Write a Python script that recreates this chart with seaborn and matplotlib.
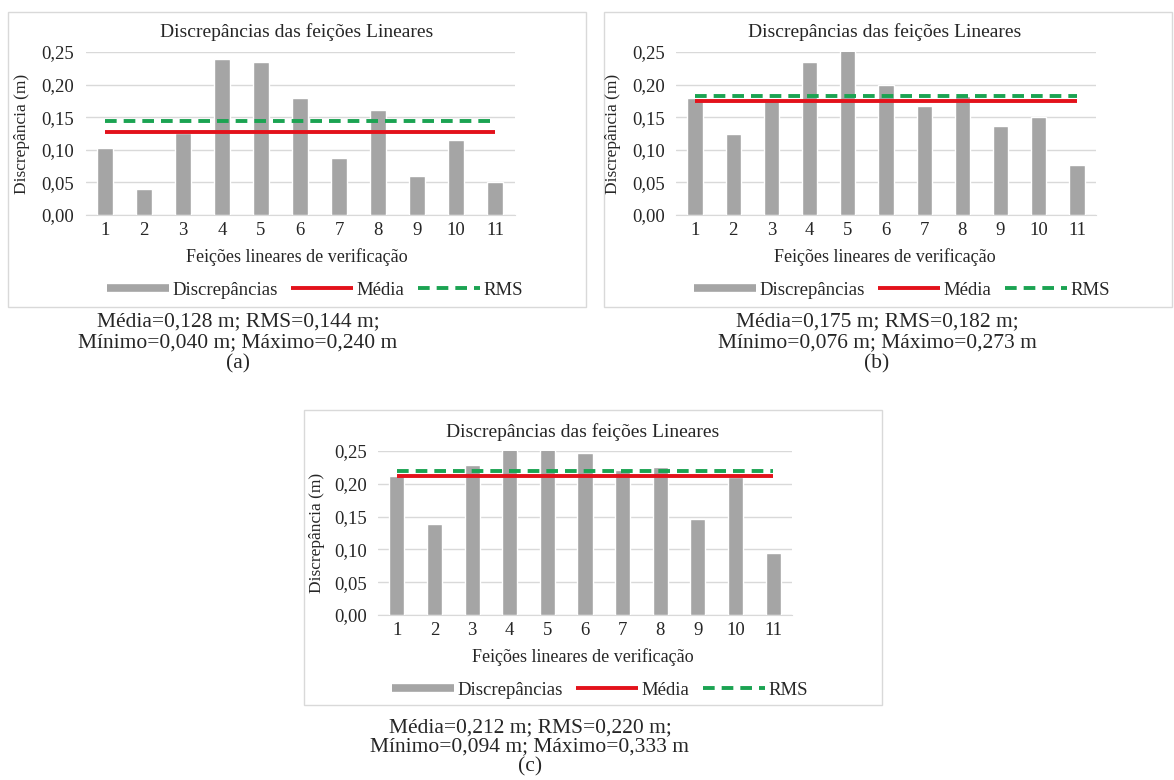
import numpy as np
import matplotlib
matplotlib.use("Agg")
import matplotlib.pyplot as plt
from matplotlib.lines import Line2D
from matplotlib.patches import Rectangle
import seaborn as sns

sns.set_style("white")
plt.rcParams['font.family'] = ['Liberation Serif', 'DejaVu Serif']

# ---- data ----
categories = ["1", "2", "3", "4", "5", "6", "7", "8", "9", "10", "11"]
disc_a = [0.103, 0.040, 0.126, 0.240, 0.235, 0.179, 0.087, 0.161, 0.060, 0.115, 0.050]
disc_b = [0.180, 0.125, 0.180, 0.235, 0.273, 0.200, 0.167, 0.183, 0.137, 0.151, 0.076]
disc_c = [0.212, 0.139, 0.228, 0.275, 0.333, 0.247, 0.221, 0.226, 0.146, 0.211, 0.094]
media = [0.128, 0.175, 0.212]
rms = [0.144, 0.182, 0.220]
minimo = [0.040, 0.076, 0.094]
maximo = [0.240, 0.273, 0.333]
panel_letters = ["(a)", "(b)", "(c)"]
yticks = [0.00, 0.05, 0.10, 0.15, 0.20, 0.25]
ytick_labels = ["0,00", "0,05", "0,10", "0,15", "0,20", "0,25"]
title = "Discrepâncias das feições Lineares"
xlabel = "Feições lineares de verificação"
ylabel = "Discrepância (m)"
legend_labels = ["Discrepâncias", "Média", "RMS"]

W, H = 1174, 780
fig = plt.figure(figsize=(W / 100, H / 100), dpi=100)


def fx(x):
    return x / W


def fy(y):
    return 1 - y / H


BAR = "#A5A5A5"
RED = "#E3121B"
GREEN = "#1BA352"
GRID = "#D9D9D9"

# layout in pixels (per panel)
panels = [
    dict(data=disc_a, box=(8, 12, 586, 307), ax=(85.5, 52, 514.5, 215), cx=297,
         ylab_x=22, title_y=32, xlab_y=257, leg_x=315, leg_y=290, cap_x=238,
         cap_y=(322, 343, 364)),
    dict(data=disc_b, box=(604, 12, 1172, 307), ax=(676, 52, 1096, 215), cx=885,
         ylab_x=613, title_y=32, xlab_y=257, leg_x=902, leg_y=290, cap_x=877,
         cap_y=(322, 343, 364)),
    dict(data=disc_c, box=(304, 410, 882, 705), ax=(378, 451, 792, 615), cx=583,
         ylab_x=317, title_y=432, xlab_y=657, leg_x=600, leg_y=690, cap_x=530,
         cap_y=(728, 747, 767)),
]

for i, p in enumerate(panels):
    bx0, by0, bx1, by1 = p["box"]
    fig.patches.append(Rectangle((fx(bx0), fy(by1)), fx(bx1 - bx0), (by1 - by0) / H,
                                 transform=fig.transFigure, fill=False,
                                 edgecolor=GRID, lw=1.0, zorder=0))
    ax0, ay0, ax1, ay1 = p["ax"]
    ax = fig.add_axes([fx(ax0), fy(ay1), fx(ax1 - ax0), (ay1 - ay0) / H])
    ax.set_facecolor("none")
    n = len(categories)
    sns.barplot(x=categories, y=p["data"], color=BAR, saturation=1, width=0.4,
                ax=ax, zorder=2)
    xs = np.arange(n)
    ax.plot(xs, [media[i]] * n, color=RED, lw=2.8, zorder=3, solid_capstyle="butt")
    ax.plot(xs, [rms[i]] * n, color=GREEN, lw=2.8, zorder=4, dashes=(3.0, 1.8))
    ax.set_xlim(-0.5, n - 0.5)
    ax.set_ylim(0, 0.25)
    ax.set_yticks(yticks)
    ax.set_yticklabels(ytick_labels, fontsize=13.5)
    ax.tick_params(axis="x", labelsize=13.5, length=0, pad=5)
    ax.tick_params(axis="y", length=0, pad=8)
    ax.set_xlabel("")
    ax.set_ylabel("")
    ax.yaxis.grid(True, color=GRID, lw=1.0, zorder=0)
    ax.set_axisbelow(True)
    for s in ["top", "right", "left"]:
        ax.spines[s].set_visible(False)
    ax.spines["bottom"].set_color(GRID)
    ax.spines["bottom"].set_zorder(1)

    fig.text(fx(p["cx"]), fy(p["title_y"]), title, ha="center", va="center", fontsize=14)
    fig.text(fx(p["ylab_x"]), fy((ay0 + ay1) / 2), ylabel, ha="center", va="center",
             rotation=90, fontsize=12.5)
    fig.text(fx(p["cx"]), fy(p["xlab_y"]), xlabel, ha="center", va="center", fontsize=13)

    handles = [Line2D([0], [0], color=BAR, lw=5.5, solid_capstyle="butt"),
               Line2D([0], [0], color=RED, lw=2.8, solid_capstyle="butt"),
               Line2D([0], [0], color=GREEN, lw=2.8, dashes=(3.0, 1.8))]
    fig.legend(handles, legend_labels, loc="center",
               bbox_to_anchor=(fx(p["leg_x"]), fy(p["leg_y"])),
               ncol=3, frameon=False, fontsize=13.5, handlelength=3.3,
               handletextpad=0.2, columnspacing=0.7, borderaxespad=0)

    cap1 = f"Média={media[i]:.3f} m; RMS={rms[i]:.3f} m;".replace(".", ",")
    cap2 = f"Mínimo={minimo[i]:.3f} m; Máximo={maximo[i]:.3f} m".replace(".", ",")
    fig.text(fx(p["cap_x"]), fy(p["cap_y"][0]), cap1, ha="center", va="center", fontsize=15.5)
    fig.text(fx(p["cap_x"]), fy(p["cap_y"][1]), cap2, ha="center", va="center", fontsize=15.5)
    fig.text(fx(p["cap_x"]), fy(p["cap_y"][2]), panel_letters[i], ha="center", va="center",
             fontsize=15.5)

fig.savefig("out.png", dpi=100, facecolor="white")
